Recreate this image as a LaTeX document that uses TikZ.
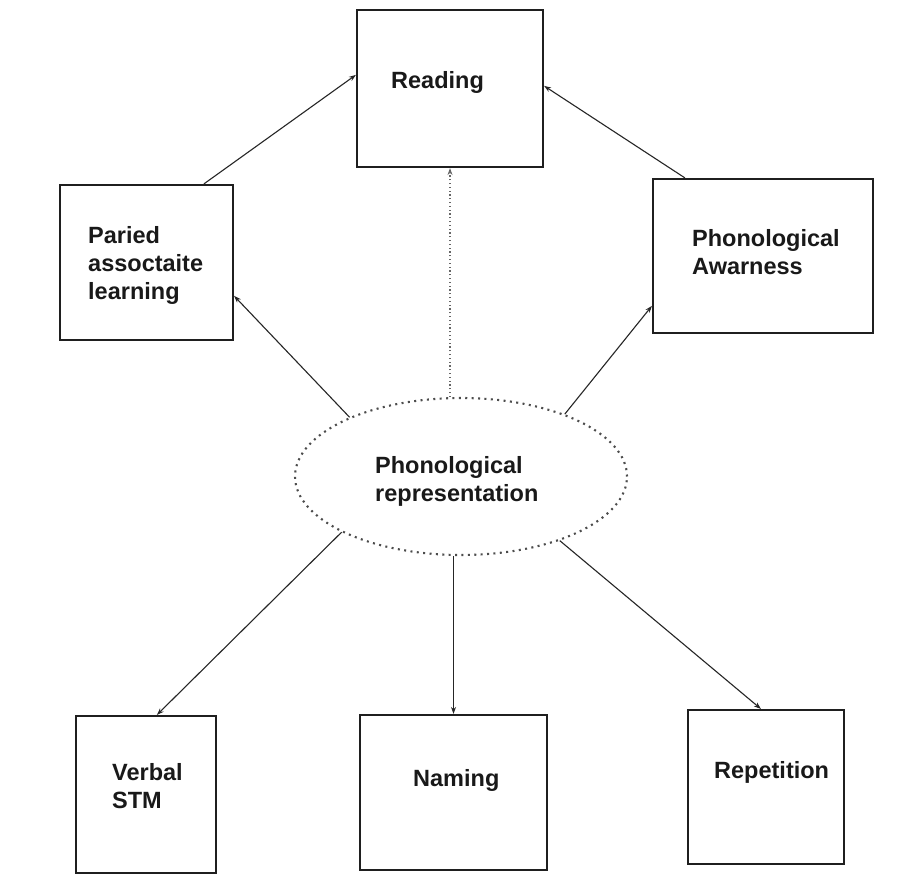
\documentclass[tikz,border=0pt]{standalone}
\usepackage{fontspec}
\setmainfont{Liberation Sans}
\usetikzlibrary{shapes.geometric,arrows.meta,calc}
\tikzset{
  box/.style={draw=black!88, line width=2.2pt, rectangle, inner sep=0pt},
  lbl/.style={anchor=west, inner sep=0pt, align=left, text=black!90,
    font=\fontsize{23.5}{28}\selectfont\bfseries},
  conn/.style={draw=black!85, line width=1.1pt, -{Stealth[length=7pt,width=5pt]}},
  dotconn/.style={draw=black!60, line width=1.4pt, dash pattern=on 1.2pt off 2.6pt,
    -{Stealth[length=7pt,width=5pt]}},
  ellbox/.style={ellipse, draw=black!70, line width=2.1pt,
    dash pattern=on 2pt off 4.4pt, inner sep=0pt}
}
\begin{document}
\begin{tikzpicture}[x=1pt,y=-1pt]
\useasboundingbox[fill=white] (0,0) rectangle (917,875);
% boxes
\node[box, minimum width=186pt, minimum height=157pt] (read) at (450,88.5) {};
\node[box, minimum width=173pt, minimum height=155pt] (par) at (146.5,262.5) {};
\node[box, minimum width=220pt, minimum height=154pt] (paw) at (763,256) {};
\node[box, minimum width=140pt, minimum height=157pt] (stm) at (146,794.5) {};
\node[box, minimum width=187pt, minimum height=155pt] (nam) at (453.5,792.5) {};
\node[box, minimum width=156pt, minimum height=154pt] (rep) at (766,787) {};
\node[ellbox, minimum width=332pt, minimum height=157pt] (ell) at (461,476.5) {};
% labels
\node[lbl] (tread) at (391,82) {Reading};
\node[lbl] (tpar) at (88,265) {Paried\\assoctaite\\learning};
\node[lbl] (tpaw) at (692,252) {Phonological\\Awarness};
\node[lbl] (tell) at (375,481) {Phonological\\representation};
\node[lbl] (tstm) at (112,786) {Verbal\\STM};
\node[lbl] (tnam) at (413,780) {Naming};
\node[lbl] (trep) at (714,772) {Repetition};
% connectors
\draw[conn] ($(par.north west)+(145,0)$) -- ($(read.north west)+(0,66)$);
\draw[conn] ($(paw.north west)+(33,0)$) -- ($(read.north east)+(0,77)$);
\draw[dotconn] (ell.north -| read.south) -- (read.south);
\draw[conn] (ell.152.6) -- ($(par.north east)+(0,112)$);
\draw[conn] (ell.31.3) -- ($(paw.north west)+(0,128)$);
\draw[conn] (ell.205.4) -- ($(stm.north west)+(82,0)$);
\draw[conn] (ell.south -| nam.north) -- (nam.north);
\draw[conn] (ell.-33.5) -- ($(rep.north west)+(74,0)$);
\end{tikzpicture}
\end{document}
